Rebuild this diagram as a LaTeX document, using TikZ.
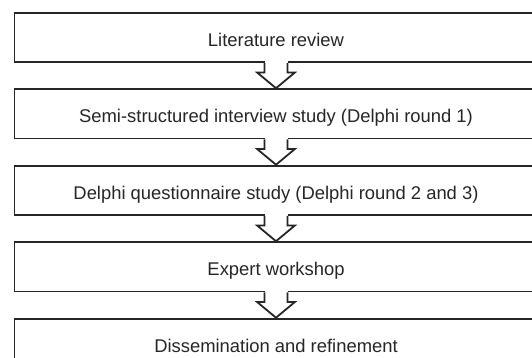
\documentclass[tikz,border=0pt]{standalone}
\usepackage{fontspec}
\setmainfont{Liberation Sans}
\usetikzlibrary{positioning,calc}
\definecolor{ink}{HTML}{262626}
\tikzset{
  stage/.style={rectangle, draw=ink, line width=1.8pt, fill=white,
    minimum width=523pt, minimum height=49.4pt, inner sep=0pt, text=ink,
    text height=18.2pt, text depth=0pt, font=\fontsize{18.4}{22}\selectfont},
  flow/.style={draw=ink, line width=1.8pt, line join=miter, fill=white}
}
% hollow block arrow from the bottom of #1 to the top of #2
\newcommand{\blockarrow}[2]{%
  \fill[white] ($(#1.south)+(-11.5,-1.5)$) rectangle ($(#1.south)+(11.5,9.5)$);
  \draw[flow] ($(#1.south)+(-11.5,0)$) -- ($(#1.south)+(-11.5,9.5)$)
    -- ($(#1.south)+(-19,9.5)$) -- (#2.north) -- ($(#1.south)+(19,9.5)$)
    -- ($(#1.south)+(11.5,9.5)$) -- ($(#1.south)+(11.5,0)$);
}

\begin{document}
\begin{tikzpicture}[x=1pt, y=-1pt, node distance=25.3pt]
  \useasboundingbox (0,0) rectangle (532,357);
  \clip (0,0) rectangle (532,357);
  \node (lit) at (276,37.3) [stage] {Literature review};
  \node (interview) [below=of lit, stage] {Semi-structured interview study (Delphi round 1)};
  \node (delphi) [below=of interview, stage] {Delphi questionnaire study (Delphi round 2 and 3)};
  \node (workshop) [below=of delphi, stage] {Expert workshop};
  \node (dissem) [below=of workshop, stage] {Dissemination and refinement};
  \blockarrow{lit}{interview}
  \blockarrow{interview}{delphi}
  \blockarrow{delphi}{workshop}
  \blockarrow{workshop}{dissem}
\end{tikzpicture}
\end{document}
